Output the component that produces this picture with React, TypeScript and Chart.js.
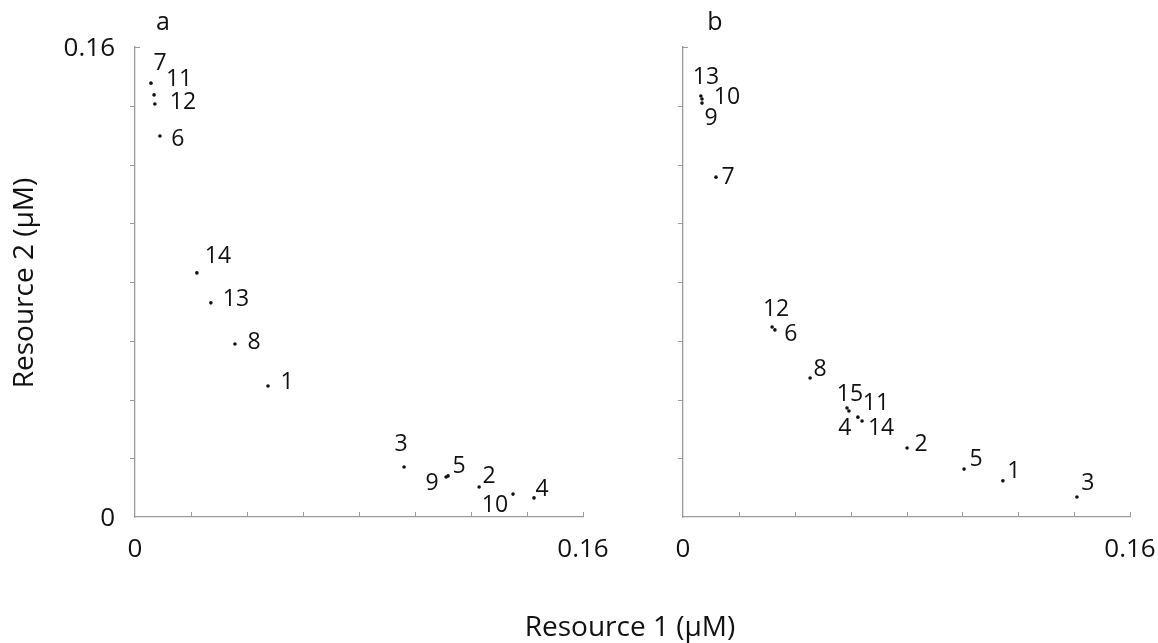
import { useEffect, useRef } from "react";
import { Chart, registerables } from "chart.js";

Chart.register(...registerables);

// ---- axis set-up ----
const AXIS_MIN = 0;
const AXIS_MAX = 0.16;
const TICK_STEP = 0.02;
const X_TICK_LABELS = ["0", "0.16"];
const Y_TICK_LABELS = ["0", "0.16"];
const PANEL_A_TITLE = "a";
const PANEL_B_TITLE = "b";
const X_TITLE = "Resource 1 (µM)";
const Y_TITLE = "Resource 2 (µM)";

// ---- panel a data ----
const panelALabels = ["7", "11", "12", "6", "14", "13", "8", "1", "3", "9", "5", "2", "10", "4"];
const panelAResource1 = [0.0057, 0.0068, 0.0071, 0.0089, 0.0221, 0.0271, 0.0357, 0.0475, 0.0961, 0.1111, 0.1118, 0.1229, 0.135, 0.1425];
const panelAResource2 = [0.1477, 0.1437, 0.1406, 0.1297, 0.0831, 0.0729, 0.0589, 0.0446, 0.017, 0.0136, 0.014, 0.0102, 0.0078, 0.0065];

// ---- panel b data ----
const panelBLabels = ["13", "10", "9", "7", "12", "6", "8", "15", "4", "11", "14", "2", "5", "1", "3"];
const panelBResource1 = [0.0064, 0.0068, 0.0068, 0.0118, 0.0319, 0.0329, 0.0455, 0.0587, 0.0594, 0.0626, 0.0641, 0.0802, 0.1006, 0.1145, 0.141];
const panelBResource2 = [0.1433, 0.1423, 0.1409, 0.1157, 0.0647, 0.0637, 0.0473, 0.0371, 0.0361, 0.034, 0.0327, 0.0235, 0.0163, 0.0123, 0.0068];

// ---- label placement (layout, px offsets from each point) ----
const panelALabelOffsets = [[9, -21], [25, -17], [28, -3], [18, 2], [21, -18], [25, -5], [19, -3], [19, -5], [-3, -24], [-14, 5], [11, -11], [10, -12], [-18, 10], [8, -10]];
const panelBLabelOffsets = [[5, -20], [25, -3], [9, 14], [12, -1], [4, -19], [16, 3], [10, -10], [3, -15], [-4, 16], [18, -15], [19, 6], [14, -5], [12, -11], [11, -11], [11, -15]];

const FONT = "'Open Sans', Lato, 'DejaVu Sans', sans-serif";
const TEXT_COLOR = "#111";
const AXIS_COLOR = "#9a9a9a";
const LABEL_SIZE = 23;
const TICK_SIZE = 26;
const TITLE_SIZE = 28;
const LETTER_SIZE = 25;

type PanelOpts = {
  labels: string[];
  offsets: number[][];
  title: string;
  primary: boolean;
};

function makeDecorPlugin(p: PanelOpts) {
  return {
    id: "panelDecor",
    afterDraw(chart: any) {
      const ctx: CanvasRenderingContext2D = chart.ctx;
      const xs = chart.scales.x;
      const ys = chart.scales.y;
      const area = chart.chartArea;
      ctx.save();

      // tick marks
      ctx.strokeStyle = AXIS_COLOR;
      ctx.lineWidth = 1;
      const tickLen = 5;
      xs.ticks.forEach((t: any) => {
        if (t.value <= AXIS_MIN) return;
        const px = Math.round(xs.getPixelForValue(t.value)) + 0.5;
        ctx.beginPath();
        ctx.moveTo(px, area.bottom);
        ctx.lineTo(px, area.bottom - tickLen);
        ctx.stroke();
      });
      ys.ticks.forEach((t: any) => {
        if (t.value <= AXIS_MIN) return;
        const py = Math.round(ys.getPixelForValue(t.value)) + 0.5;
        ctx.beginPath();
        if (t.value >= AXIS_MAX - 1e-9) {
          ctx.moveTo(area.left, py);
          ctx.lineTo(area.left + tickLen, py);
        } else {
          ctx.moveTo(area.left, py);
          ctx.lineTo(area.left - tickLen, py);
        }
        ctx.stroke();
      });

      // tick labels
      ctx.fillStyle = TEXT_COLOR;
      ctx.font = `${TICK_SIZE}px ${FONT}`;
      ctx.textAlign = "center";
      ctx.textBaseline = "alphabetic";
      X_TICK_LABELS.forEach((lab) => {
        const px = xs.getPixelForValue(Number(lab));
        ctx.fillText(lab, px, area.bottom + 31 + TICK_SIZE * 0.36);
      });
      if (p.primary) {
        ctx.textAlign = "right";
        Y_TICK_LABELS.forEach((lab) => {
          const py = ys.getPixelForValue(Number(lab));
          ctx.fillText(lab, area.left - 20, py + TICK_SIZE * 0.36);
        });
      }

      // panel letter
      ctx.textAlign = "center";
      ctx.font = `${LETTER_SIZE}px ${FONT}`;
      ctx.fillText(p.title, area.left + (p.primary ? 28 : 32), 30);

      // axis titles (drawn once, on the primary panel's wide canvas)
      if (p.primary) {
        ctx.font = `${TITLE_SIZE}px ${FONT}`;
        ctx.textAlign = "center";
        ctx.fillText(X_TITLE, 630, 636);
        ctx.save();
        ctx.translate(33, 283);
        ctx.rotate(-Math.PI / 2);
        ctx.fillText(Y_TITLE, 0, 0);
        ctx.restore();
      }

      // point labels
      ctx.font = `${LABEL_SIZE}px ${FONT}`;
      ctx.textAlign = "center";
      const meta = chart.getDatasetMeta(0);
      meta.data.forEach((el: any, i: number) => {
        const off = p.offsets[i] || [10, -10];
        ctx.fillText(p.labels[i], el.x + off[0], el.y + off[1] + LABEL_SIZE * 0.36);
      });
      ctx.restore();
    },
  };
}

function buildConfig(r1: number[], r2: number[], p: PanelOpts, padding: any) {
  const points = r1.map((x, i) => ({ x, y: r2[i] }));
  const axis = {
    type: "linear" as const,
    min: AXIS_MIN,
    max: AXIS_MAX,
    ticks: { display: false, stepSize: TICK_STEP },
    grid: { display: false, drawTicks: false },
    border: { display: true, color: AXIS_COLOR, width: 1.3 },
    title: { display: false },
  };
  return {
    type: "scatter" as const,
    data: {
      datasets: [
        {
          data: points,
          pointRadius: 1.8,
          pointBackgroundColor: "#111",
          pointBorderWidth: 0,
          showLine: false,
        },
      ],
    },
    options: {
      animation: false as const,
      responsive: false,
      maintainAspectRatio: false,
      devicePixelRatio: 1,
      layout: { padding },
      plugins: { legend: { display: false }, tooltip: { enabled: false }, title: { display: false } },
      scales: { x: { ...axis, position: "bottom" as const }, y: { ...axis, position: "left" as const } },
    },
    plugins: [makeDecorPlugin(p)],
  };
}

export default function App() {
  const refA = useRef<HTMLCanvasElement | null>(null);
  const refB = useRef<HTMLCanvasElement | null>(null);

  useEffect(() => {
    const chartA = new Chart(
      refA.current as HTMLCanvasElement,
      buildConfig(
        panelAResource1,
        panelAResource2,
        { labels: panelALabels, offsets: panelALabelOffsets, title: PANEL_A_TITLE, primary: true },
        { left: 135, right: 575, top: 47, bottom: 126 }
      ) as any
    );
    const chartB = new Chart(
      refB.current as HTMLCanvasElement,
      buildConfig(
        panelBResource1,
        panelBResource2,
        { labels: panelBLabels, offsets: panelBLabelOffsets, title: PANEL_B_TITLE, primary: false },
        { left: 63, right: 28, top: 47, bottom: 126 }
      ) as any
    );
    return () => {
      chartA.destroy();
      chartB.destroy();
    };
  }, []);

  return (
    <div style={{ position: "absolute", left: 0, top: 0, width: 1158, height: 643, background: "#fff" }}>
      <canvas
        ref={refA}
        width={1158}
        height={643}
        style={{ position: "absolute", left: 0, top: 0, width: 1158, height: 643 }}
      />
      <canvas
        ref={refB}
        width={538}
        height={643}
        style={{ position: "absolute", left: 620, top: 0, width: 538, height: 643 }}
      />
    </div>
  );
}
